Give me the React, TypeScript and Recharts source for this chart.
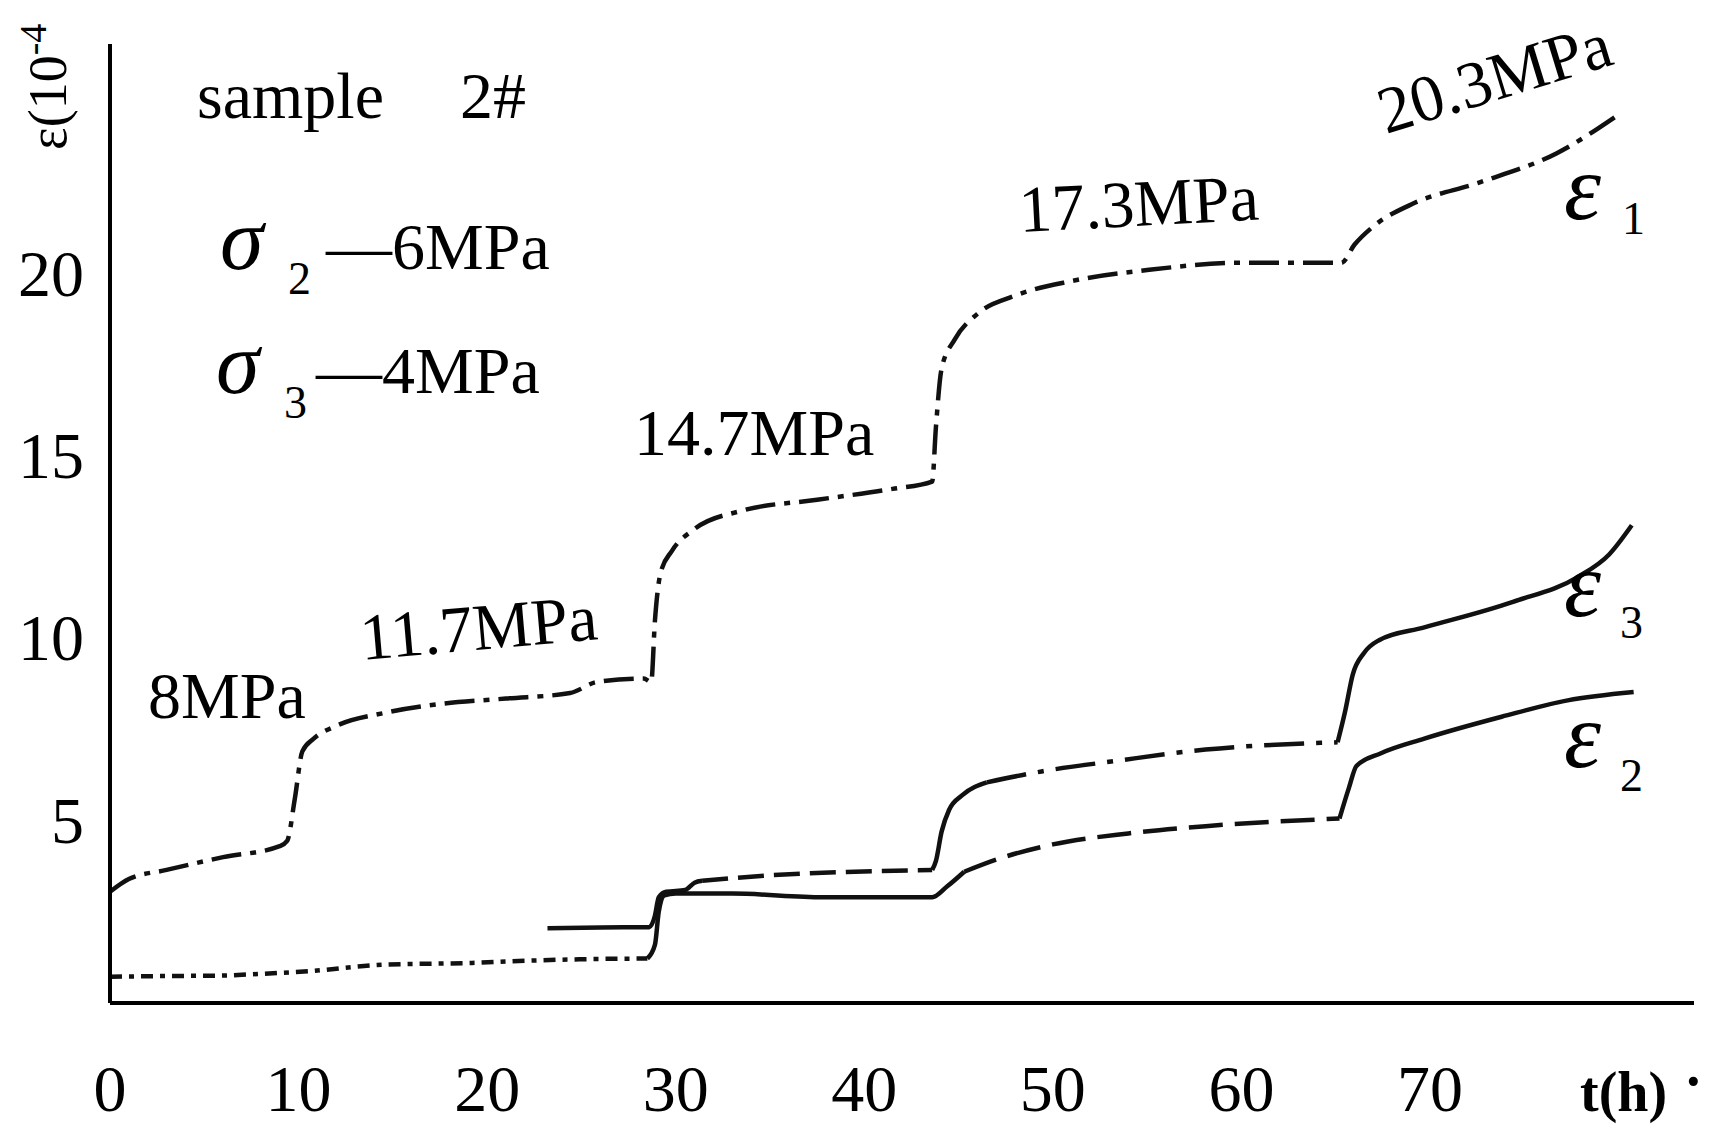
import { LineChart, Line, XAxis, YAxis } from "recharts";

const W = 1719;
const H = 1131;
const SERIF = "'Liberation Serif', 'Times New Roman', serif";

const xTicks = [0, 10, 20, 30, 40, 50, 60, 70];
const yTicks = [5, 10, 15, 20];

// ε1: [t (h), strain (1e-4)]
const e1: [number, number][] = [
  [0, 3.05], [1, 3.4], [3, 3.65], [6, 4.0], [9.0, 4.3], [9.4, 4.45], [9.8, 5.6],
  [10.2, 6.9], [10.8, 7.25], [12.0, 7.6], [14.5, 7.95], [17.5, 8.2], [21.0, 8.35],
  [24.4, 8.5], [25.8, 8.8], [28.3, 8.9], [28.7, 8.8], [28.9, 10.5], [29.2, 11.8],
  [29.8, 12.4], [31.0, 13.0], [33.5, 13.5], [37.5, 13.8], [41.5, 14.1], [43.6, 14.3],
  [43.8, 15.8], [44.1, 17.4], [44.8, 18.2], [46.0, 18.9], [48.0, 19.4], [51.0, 19.8],
  [55.0, 20.1], [60.0, 20.3], [65.3, 20.3], [66.0, 20.8], [67.0, 21.3], [69.0, 21.9],
  [72.6, 22.5], [76.7, 23.3], [80.1, 24.4],
];

// noisy low line shared by ε2 / ε3 before the 30 h step
const low: [number, number][] = [
  [0, 0.72], [3, 0.74], [5.8, 0.75], [8, 0.8], [10.5, 0.87], [14.5, 1.05],
  [19.2, 1.1], [22.7, 1.17], [25, 1.2], [28.5, 1.22],
];

// ε3
const e3a: [number, number][] = [
  [23.2, 2.05], [26, 2.07], [28.6, 2.08], [28.9, 2.4], [29.1, 2.9], [29.5, 3.05],
  [30.5, 3.1], [31.0, 3.3], [31.4, 3.35],
];
const e3b: [number, number][] = [[31.4, 3.35], [34.9, 3.5], [39.5, 3.6], [43.6, 3.65]];
const e3c: [number, number][] = [
  [43.6, 3.65], [43.8, 3.9], [44.1, 4.7], [44.5, 5.3], [45.2, 5.7], [46.5, 6.05],
];
const e3d: [number, number][] = [[46.5, 6.05], [49.4, 6.35], [53.5, 6.65], [58.1, 6.95], [65.1, 7.15]];
const e3e: [number, number][] = [
  [65.1, 7.15], [65.5, 8.0], [65.9, 9.0], [66.5, 9.6], [67.3, 9.95], [69.7, 10.3],
  [74.4, 11.0], [77.9, 11.7], [79.5, 12.3], [80.7, 13.1],
];

// ε2
const e2a: [number, number][] = [
  [28.5, 1.22], [28.9, 1.6], [29.1, 2.5], [29.4, 2.95], [30.0, 3.0], [33.0, 3.0],
  [37.8, 2.9], [43.6, 2.9], [44.4, 3.2], [45.3, 3.6],
];
const e2b: [number, number][] = [
  [45.3, 3.6], [47.1, 3.95], [50.0, 4.35], [54.0, 4.65], [58.1, 4.85], [65.2, 5.06],
];
const e2c: [number, number][] = [
  [65.2, 5.06], [65.7, 5.9], [66.1, 6.5], [67.4, 6.85], [69.7, 7.25], [73.8, 7.85],
  [77.3, 8.3], [80.8, 8.53],
];

const series = [
  { id: "e1", pts: e1, dash: "30 9 6 9" },
  { id: "low", pts: low, dash: "12 7 5 7" },
  { id: "e3a", pts: e3a, dash: undefined },
  { id: "e3b", pts: e3b, dash: "26 10" },
  { id: "e3c", pts: e3c, dash: undefined },
  { id: "e3d", pts: e3d, dash: "40 12 6 12" },
  { id: "e3e", pts: e3e, dash: undefined },
  { id: "e2a", pts: e2a, dash: undefined },
  { id: "e2b", pts: e2b, dash: "34 12" },
  { id: "e2c", pts: e2c, dash: undefined },
];

const XTick = ({ x, y, payload }: any) => (
  <text x={x} y={y + 100} textAnchor="middle" fontFamily={SERIF} fontSize={66} fill="#000">
    {payload.value}
  </text>
);

const YTick = ({ x, y, payload }: any) => (
  <text x={x - 18} y={y + 22} textAnchor="end" fontFamily={SERIF} fontSize={66} fill="#000">
    {payload.value}
  </text>
);

const txt = { fontFamily: SERIF, fill: "#000" } as const;

export default function App() {
  return (
    <div style={{ position: "absolute", left: 0, top: 0, width: W, height: H, background: "#fff" }}>
      <LineChart width={W} height={H} margin={{ top: 44, right: 25, left: 10, bottom: 48 }}>
        <XAxis
          type="number"
          dataKey="t"
          domain={[0, 84]}
          ticks={xTicks}
          height={80}
          tickLine={false}
          axisLine={{ stroke: "#000", strokeWidth: 4 }}
          tick={<XTick />}
          allowDataOverflow
        />
        <YAxis
          type="number"
          dataKey="v"
          domain={[0, 26.3]}
          ticks={yTicks}
          width={100}
          tickLine={false}
          axisLine={{ stroke: "#000", strokeWidth: 4 }}
          tick={<YTick />}
          allowDataOverflow
        />
        {series.map((s) => (
          <Line
            key={s.id}
            data={s.pts.map(([t, v]) => ({ t, v }))}
            dataKey="v"
            type="monotone"
            stroke="#111"
            strokeWidth={4.5}
            strokeDasharray={s.dash}
            dot={false}
            isAnimationActive={false}
          />
        ))}
      </LineChart>
      <svg
        width={W}
        height={H}
        style={{ position: "absolute", left: 0, top: 0, pointerEvents: "none" }}
      >
        <text {...txt} fontSize={54} transform="translate(66,150) rotate(-90)">
          ε(10<tspan fontSize={38} dy={-20}>-4</tspan>
        </text>
        <text {...txt} fontSize={66} x={197} y={118}>sample</text>
        <text {...txt} fontSize={66} x={460} y={118}>2#</text>

        <text {...txt} fontSize={88} fontStyle="italic" x={220} y={269}>σ</text>
        <text {...txt} fontSize={46} x={288} y={294}>2</text>
        <text {...txt} fontSize={66} x={326} y={269}>—6MPa</text>

        <text {...txt} fontSize={88} fontStyle="italic" x={216} y={393}>σ</text>
        <text {...txt} fontSize={46} x={284} y={418}>3</text>
        <text {...txt} fontSize={66} x={316} y={393}>—4MPa</text>

        <text {...txt} fontSize={66} x={148} y={718}>8MPa</text>
        <text {...txt} fontSize={66} transform="translate(362,660) rotate(-5)">11.7MPa</text>
        <text {...txt} fontSize={66} x={634} y={455}>14.7MPa</text>
        <text {...txt} fontSize={66} transform="translate(1020,232) rotate(-3)">17.3MPa</text>
        <text {...txt} fontSize={66} transform="translate(1386,134) rotate(-17)">20.3MPa</text>

        <text {...txt} fontSize={94} fontStyle="italic" x={1564} y={219}>ε</text>
        <text {...txt} fontSize={46} x={1622} y={234}>1</text>
        <text {...txt} fontSize={94} fontStyle="italic" x={1564} y={616}>ε</text>
        <text {...txt} fontSize={46} x={1620} y={638}>3</text>
        <text {...txt} fontSize={94} fontStyle="italic" x={1564} y={767}>ε</text>
        <text {...txt} fontSize={46} x={1620} y={791}>2</text>

        <text {...txt} fontSize={56} fontWeight={700} x={1580} y={1111}>t(h)</text>
        <text {...txt} fontSize={56} fontWeight={700} x={1684} y={1100}>·</text>
      </svg>
    </div>
  );
}
